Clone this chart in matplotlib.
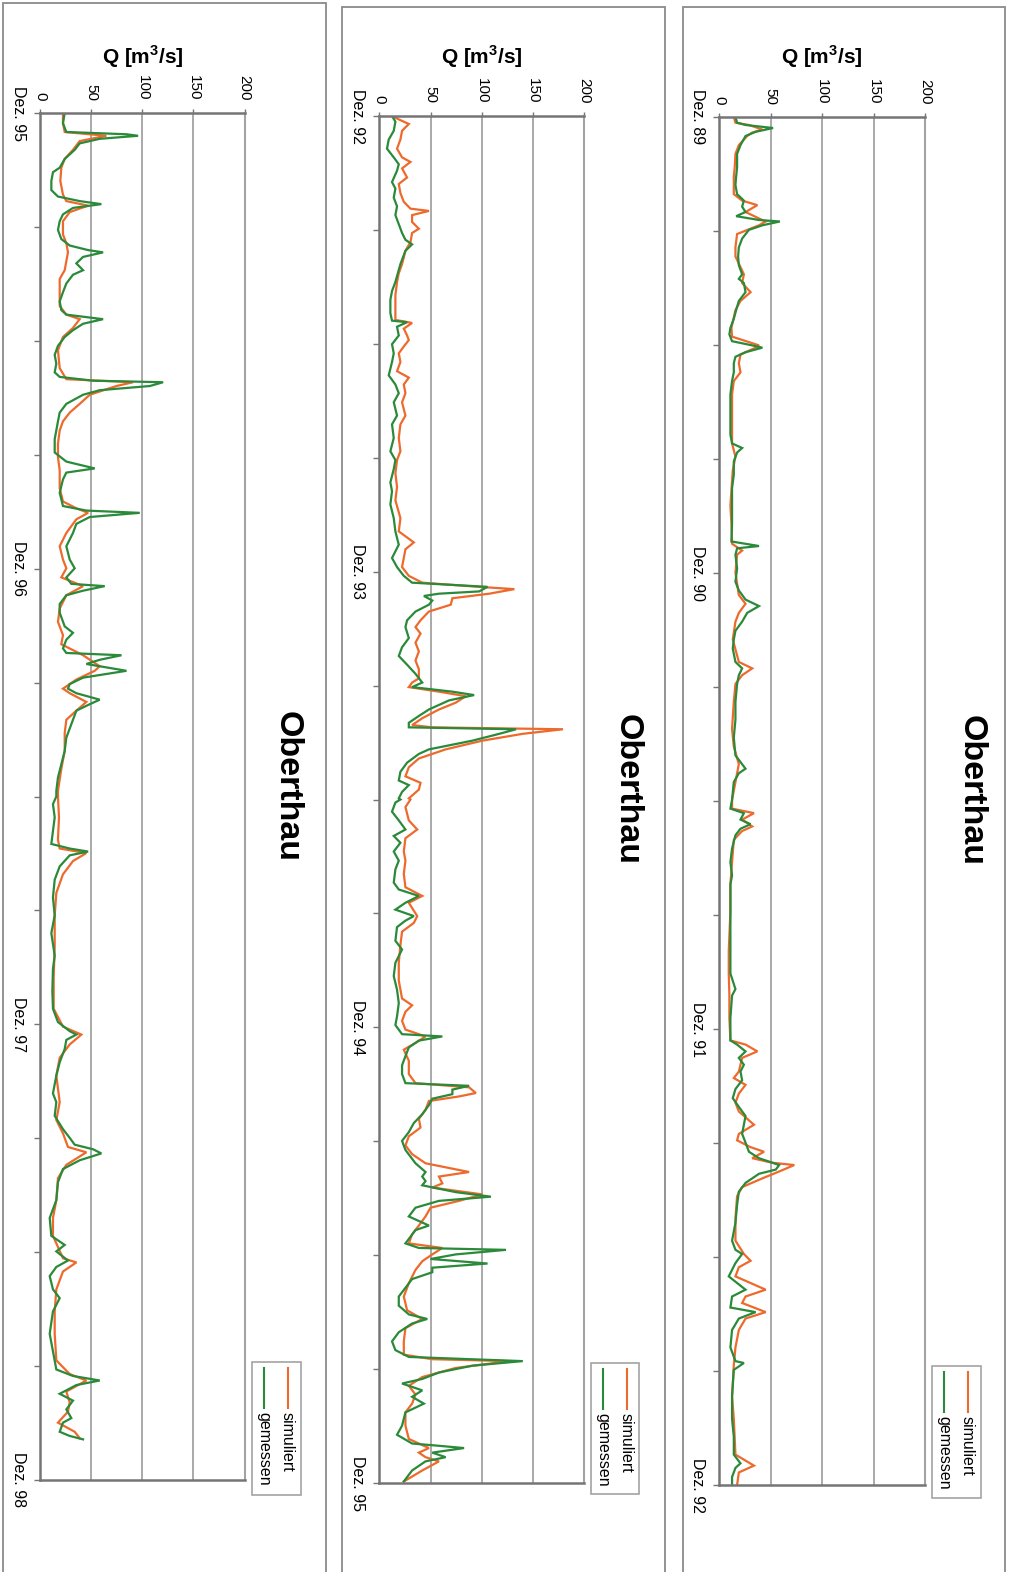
import matplotlib
matplotlib.use("Agg")
import matplotlib.pyplot as plt
from matplotlib.patches import Rectangle
from matplotlib.lines import Line2D
import numpy as np

plt.rcParams['font.family'] = ['Liberation Sans', 'DejaVu Sans']
plt.rcParams['mathtext.fontset'] = 'custom'
plt.rcParams['mathtext.rm'] = 'Liberation Sans'
plt.rcParams['mathtext.bf'] = 'Liberation Sans:bold'

W, H = 1009, 1572

station = "Oberthau"
q_label = r"Q [m$^{\mathbf{3}}$/s]"
q_ticks = [0, 50, 100, 150, 200]
legend_labels = ["simuliert", "gemessen"]

# time axis: months after December of the first year of each panel
labels_8992 = ["Dez. 89", "Dez. 90", "Dez. 91", "Dez. 92"]
labels_9295 = ["Dez. 92", "Dez. 93", "Dez. 94", "Dez. 95"]
labels_9598 = ["Dez. 95", "Dez. 96", "Dez. 97", "Dez. 98"]

# (month, Q in m³/s)
sim_8992 = [
    (0, 14.1), (0.15, 15.7), (0.21, 28.8), (0.33, 41.9), (0.41, 32.0), (0.50, 27.1), (0.74, 19.0),
    (0.97, 15.7), (1.32, 15.0), (1.56, 14.1), (2.03, 14.1), (2.20, 22.2), (2.32, 37.0), (2.50, 25.5),
    (2.67, 38.6), (2.75, 45.1), (2.85, 38.6), (3.08, 17.3), (3.43, 15.7), (3.67, 15.7), (4.14, 23.9),
    (4.37, 22.2), (4.61, 30.4), (4.84, 20.6), (5.08, 15.7), (5.55, 11.8), (5.78, 12.4), (6.01, 38.6),
    (6.07, 35.3), (6.25, 20.6), (6.48, 19.0), (6.72, 20.6), (6.95, 14.1), (7.30, 12.4), (7.89, 12.4),
    (8.59, 12.4), (8.94, 15.7), (9.30, 13.1), (10.23, 10.8), (10.70, 11.8), (11.23, 12.4), (11.41, 22.2),
    (11.52, 17.3), (11.99, 15.7), (12.58, 19.0), (12.81, 25.5), (13.05, 19.0), (13.28, 15.7),
    (13.75, 13.1), (14.34, 19.0), (14.51, 32.0), (14.69, 22.2), (14.92, 15.7), (15.39, 14.1),
    (16.10, 12.4), (16.57, 14.1), (17.03, 19.0), (17.27, 17.3), (17.97, 12.4),
    (18.20, 12.4), (18.32, 33.7), (18.49, 22.2), (18.67, 32.0), (18.79, 22.2), (19.02, 14.1),
    (19.61, 12.4), (20.19, 10.8), (20.90, 10.8), (21.95, 9.2), (22.54, 9.2), (23.12, 9.8), (23.71, 9.8),
    (24.30, 10.8), (24.41, 25.5), (24.59, 37.0), (24.76, 22.2), (25.12, 19.0), (25.29, 14.1),
    (25.47, 25.5), (25.70, 19.0), (25.94, 15.7), (26.17, 19.0), (26.52, 33.7), (26.76, 19.0),
    (26.93, 17.3), (27.11, 30.4), (27.23, 43.5), (27.40, 32.0), (27.52, 51.7), (27.58, 72.9),
    (27.75, 58.2), (27.93, 41.9), (28.16, 22.2), (28.40, 17.3), (28.98, 15.7), (29.57, 15.7),
    (29.92, 23.9), (30.10, 30.4), (30.27, 19.0), (30.51, 15.7), (30.86, 45.1), (31.04, 25.5),
    (31.21, 22.2), (31.45, 45.1), (31.62, 25.5), (31.92, 19.0), (32.38, 15.7), (32.85, 14.1),
    (33.67, 12.4), (34.26, 14.1), (35.20, 15.7), (35.49, 33.7), (35.67, 19.0), (36.0, 17.3),
]
obs_8992 = [
    (0, 15.7), (0.15, 17.3), (0.21, 25.5), (0.29, 52.3), (0.39, 35.3), (0.50, 25.5), (0.74, 20.6),
    (0.97, 17.3), (1.32, 17.3), (1.56, 16.4), (1.79, 15.7), (2.03, 17.3), (2.20, 23.9), (2.36, 22.2),
    (2.50, 25.5), (2.61, 16.4), (2.71, 38.6), (2.75, 58.9), (2.85, 41.9), (2.97, 28.8), (3.20, 22.2),
    (3.43, 19.0), (3.67, 18.3), (3.90, 19.0), (4.14, 22.2), (4.26, 19.0), (4.37, 23.9), (4.61, 25.5),
    (4.84, 19.0), (5.08, 16.4), (5.31, 14.1), (5.55, 10.8), (5.72, 9.8), (5.90, 12.4), (6.01, 32.0),
    (6.07, 41.9), (6.19, 25.5), (6.31, 15.7), (6.48, 14.1), (6.72, 14.1), (6.95, 12.4), (7.30, 10.8),
    (7.66, 10.8), (7.89, 10.8), (8.36, 10.8), (8.59, 12.4), (8.71, 22.2), (8.83, 17.3), (9.06, 14.1),
    (9.41, 14.1), (9.77, 12.4), (10.23, 12.4), (10.70, 12.4), (11.17, 11.8), (11.29, 38.6),
    (11.35, 17.3), (11.52, 15.7), (11.88, 17.3), (12.23, 15.7), (12.46, 19.0), (12.70, 25.5),
    (12.87, 38.6), (13.05, 27.1), (13.28, 22.2), (13.52, 15.7), (13.75, 14.1), (13.99, 13.1),
    (14.34, 15.7), (14.51, 22.2), (14.69, 19.0), (14.92, 17.3), (15.39, 15.7), (15.86, 15.7),
    (16.33, 14.1), (16.80, 15.7), (17.15, 25.5), (17.27, 19.0), (17.50, 14.1), (17.97, 12.4),
    (18.20, 10.8), (18.32, 23.9), (18.49, 20.6), (18.61, 30.4), (18.73, 20.6), (18.90, 15.7),
    (19.25, 12.4), (19.61, 10.8), (19.96, 12.4), (20.19, 10.8), (20.90, 10.8), (21.36, 10.8),
    (21.95, 10.8), (22.54, 10.8), (22.95, 15.7), (23.12, 12.4), (23.71, 10.8), (24.30, 10.8),
    (24.41, 17.3), (24.59, 25.5), (24.76, 19.0), (24.94, 23.9), (25.12, 20.6), (25.35, 22.2),
    (25.58, 15.7), (25.82, 13.1), (26.05, 19.0), (26.29, 25.5), (26.52, 23.9), (26.76, 22.2),
    (26.99, 25.5), (27.23, 28.8), (27.40, 38.6), (27.58, 58.2), (27.70, 54.9), (27.81, 38.6),
    (28.05, 25.5), (28.28, 19.0), (28.63, 17.3), (29.10, 15.7), (29.57, 12.4), (29.81, 15.7),
    (29.92, 22.2), (30.16, 15.7), (30.51, 9.2), (30.86, 25.5), (31.04, 12.4), (31.33, 10.8),
    (31.45, 35.3), (31.62, 19.0), (31.92, 12.4), (32.38, 10.8), (32.74, 15.7), (32.79, 23.9),
    (32.97, 14.1), (33.67, 12.4), (34.26, 12.4), (34.73, 14.1), (35.20, 14.1), (35.43, 20.6),
    (35.55, 15.7), (35.79, 12.4), (36.0, 12.4),
]

sim_9295 = [
    (0, 12.4), (0.09, 19.0), (0.21, 28.8), (0.39, 22.2), (0.62, 20.6), (0.86, 17.3), (1.09, 22.2),
    (1.21, 30.4), (1.38, 22.2), (1.62, 27.1), (1.79, 19.0), (2.03, 20.6), (2.26, 23.9), (2.44, 30.4),
    (2.50, 48.4), (2.61, 32.0), (2.79, 32.0), (2.97, 38.6), (3.08, 32.0), (3.32, 30.4), (3.55, 25.5),
    (3.90, 22.2), (4.14, 19.0), (4.37, 17.3), (4.72, 15.7), (5.08, 15.7), (5.37, 15.7), (5.45, 32.0),
    (5.60, 23.9), (5.78, 27.1), (5.90, 28.8), (6.07, 23.9), (6.25, 19.0), (6.48, 20.6), (6.72, 17.3),
    (6.89, 28.8), (7.07, 23.9), (7.30, 25.5), (7.54, 22.2), (7.89, 25.5), (8.12, 20.6), (8.48, 19.0),
    (8.83, 20.6), (9.06, 17.3), (9.41, 15.7), (9.77, 17.3), (10.12, 15.7), (10.59, 20.6),
    (10.94, 19.0), (11.23, 33.7), (11.41, 25.5), (11.64, 23.9), (11.88, 22.2), (12.11, 28.8),
    (12.29, 41.9), (12.40, 97.4), (12.46, 131.8), (12.58, 107.3), (12.70, 71.3), (12.87, 69.7),
    (13.05, 48.4), (13.28, 40.2), (13.46, 35.3), (13.63, 40.2), (13.87, 35.3), (14.10, 38.6),
    (14.34, 35.3), (14.57, 38.6), (14.81, 38.6), (14.92, 32.0), (15.04, 28.8), (15.16, 58.2),
    (15.28, 84.4), (15.45, 74.6), (15.63, 58.2), (15.86, 41.9), (16.04, 32.0), (16.10, 51.7),
    (16.15, 179.2), (16.27, 140.0), (16.45, 100.7), (16.68, 64.7), (16.92, 38.6), (17.15, 28.8),
    (17.39, 25.5), (17.56, 40.2), (17.74, 38.6), (17.97, 28.8),
    (18.0, 30.4), (18.20, 25.5), (18.55, 28.8), (18.79, 37.0), (19.02, 25.5), (19.37, 23.9),
    (19.61, 25.5), (19.96, 23.9), (20.31, 25.5), (20.54, 41.9), (20.72, 28.8), (21.07, 37.0),
    (21.25, 33.7), (21.48, 22.2), (21.83, 20.6), (22.30, 19.0), (22.77, 19.0), (23.24, 22.2),
    (23.42, 32.0), (23.59, 25.5), (23.83, 22.2), (24.06, 25.5), (24.24, 45.1), (24.41, 35.3),
    (24.59, 23.9), (24.88, 28.8), (25.23, 28.8), (25.47, 35.3), (25.58, 87.6), (25.73, 94.2),
    (25.82, 77.8), (25.94, 48.4), (26.17, 45.1), (26.41, 38.6), (26.64, 40.2), (26.87, 28.8),
    (27.11, 25.5), (27.34, 32.0), (27.58, 45.1), (27.81, 87.6), (27.93, 58.2), (28.11, 61.5),
    (28.22, 51.7), (28.40, 100.7), (28.57, 77.8), (28.75, 50.0), (28.98, 45.1), (29.22, 38.6),
    (29.45, 32.0), (29.69, 28.8), (29.81, 61.5), (29.98, 51.7), (30.16, 41.9), (30.39, 35.3),
    (30.74, 28.8), (31.09, 23.9), (31.45, 27.1), (31.68, 41.9), (31.92, 25.5), (32.27, 23.9),
    (32.62, 23.9), (32.74, 51.7), (32.79, 126.9), (32.97, 74.6), (33.21, 41.9), (33.44, 28.8),
    (33.67, 35.3), (33.91, 32.0), (34.14, 25.5), (34.49, 25.5), (34.84, 28.8), (35.08, 48.4),
    (35.20, 38.6), (35.32, 45.1), (35.43, 58.2), (35.67, 41.9), (35.96, 23.9),
]
obs_9295 = [
    (0, 12.4), (0.15, 15.7), (0.39, 14.1), (0.62, 9.2), (0.86, 7.5), (1.09, 14.1), (1.27, 19.0),
    (1.44, 17.3), (1.74, 12.4), (1.91, 15.7), (2.15, 14.1), (2.38, 17.3), (2.61, 15.7), (2.85, 19.0),
    (3.08, 22.2), (3.26, 25.5), (3.38, 32.0), (3.55, 25.5), (3.90, 20.6), (4.37, 15.7), (4.61, 12.4),
    (4.84, 10.8), (5.19, 10.8), (5.39, 12.4), (5.43, 27.1), (5.55, 17.3), (5.78, 19.0), (6.01, 12.4),
    (6.25, 14.1), (6.48, 12.4), (6.83, 9.2), (7.07, 15.7), (7.30, 19.0), (7.54, 14.1), (7.89, 17.3),
    (8.12, 12.4), (8.48, 14.1), (8.83, 10.8), (9.06, 15.7), (9.30, 14.1), (9.65, 10.8), (9.88, 12.4),
    (10.23, 10.8), (10.59, 14.1), (10.94, 15.7), (11.29, 19.0), (11.64, 12.4), (11.88, 17.3),
    (12.11, 23.9), (12.29, 32.0), (12.40, 105.6), (12.52, 97.4), (12.58, 58.2), (12.64, 43.5),
    (12.76, 51.7), (12.87, 48.4), (13.05, 35.3), (13.28, 27.1), (13.46, 25.5), (13.75, 28.8),
    (13.99, 22.2), (14.22, 19.0), (14.45, 27.1), (14.69, 35.3), (14.92, 41.9), (15.04, 32.0),
    (15.16, 71.3), (15.25, 92.5), (15.39, 68.0), (15.63, 48.4), (15.80, 38.6), (15.98, 28.8),
    (16.10, 28.8), (16.15, 133.4), (16.27, 117.1), (16.45, 90.9), (16.68, 48.4), (16.80, 38.6),
    (17.03, 27.1), (17.27, 20.6), (17.50, 19.0), (17.62, 28.8), (17.80, 22.2), (17.97, 19.0),
    (18.0, 20.6), (18.08, 15.7), (18.32, 12.4), (18.55, 19.0), (18.79, 25.5), (18.96, 14.1),
    (19.14, 20.6), (19.37, 14.1), (19.61, 19.0), (19.84, 15.7), (20.19, 14.1), (20.37, 19.0),
    (20.54, 38.6), (20.72, 25.5), (20.90, 15.7), (21.07, 33.7), (21.19, 25.5), (21.36, 17.3),
    (21.72, 15.7), (21.95, 22.2), (22.30, 15.7), (22.65, 14.1), (23.01, 17.3), (23.36, 19.0),
    (23.71, 17.3), (23.94, 15.7), (24.18, 22.2), (24.24, 61.5), (24.35, 38.6), (24.53, 28.8),
    (24.76, 25.5), (25.00, 22.2), (25.23, 22.2), (25.47, 25.5), (25.54, 87.6), (25.64, 71.3),
    (25.76, 71.3), (25.88, 51.7), (26.05, 48.4), (26.29, 41.9), (26.52, 33.7), (26.76, 28.8),
    (26.99, 22.2), (27.23, 25.5), (27.58, 35.3), (27.81, 45.1), (27.93, 41.9), (28.05, 45.1),
    (28.16, 41.9), (28.34, 74.6), (28.46, 108.9), (28.57, 58.2), (28.75, 35.3), (28.98, 28.8),
    (29.22, 48.4), (29.34, 35.3), (29.57, 28.8), (29.69, 25.5), (29.81, 38.6), (29.86, 123.6),
    (29.98, 74.6), (30.10, 50.0), (30.22, 105.6), (30.33, 51.7), (30.45, 51.7), (30.63, 32.0),
    (30.86, 25.5), (31.09, 19.0), (31.33, 19.0), (31.56, 28.8), (31.68, 46.8), (31.80, 32.0),
    (32.03, 19.0), (32.27, 12.4), (32.50, 15.7), (32.68, 28.8), (32.79, 140.0), (32.91, 90.9),
    (33.09, 58.2), (33.26, 41.9), (33.38, 22.2), (33.56, 41.9), (33.73, 32.0), (33.91, 43.5),
    (34.14, 25.5), (34.49, 22.2), (34.73, 17.3), (34.96, 32.0), (35.02, 58.2), (35.08, 82.7),
    (35.20, 51.7), (35.32, 64.7), (35.43, 45.1), (35.67, 32.0), (35.96, 23.9),
]

sim_9598 = [
    (0, 22.2), (0.27, 22.2), (0.50, 23.9), (0.60, 64.7), (0.74, 38.6), (0.97, 32.0), (1.21, 23.9),
    (1.44, 20.6), (1.79, 19.6), (2.15, 22.2), (2.32, 25.5), (2.44, 46.8), (2.61, 28.8), (2.85, 22.2),
    (3.20, 22.2), (3.43, 25.5), (3.67, 27.1), (3.90, 25.5), (4.14, 23.9), (4.37, 19.0), (4.72, 19.0),
    (5.08, 19.0), (5.31, 25.5), (5.43, 38.6), (5.66, 32.0), (5.90, 22.2), (6.25, 17.3), (6.72, 19.0),
    (7.01, 25.5), (7.09, 90.9), (7.19, 74.6), (7.42, 48.4), (7.66, 38.6), (7.89, 28.8), (8.12, 22.2),
    (8.36, 19.0), (8.71, 17.3), (9.06, 17.3), (9.41, 19.0), (9.88, 19.0), (10.23, 22.2),
    (10.41, 35.3), (10.53, 46.8), (10.70, 35.3), (11.06, 25.5), (11.41, 19.0), (11.76, 22.2),
    (11.99, 25.5), (12.23, 20.6), (12.46, 41.9), (12.70, 25.5), (13.05, 19.0), (13.40, 17.3),
    (13.75, 22.2), (13.99, 20.6), (14.28, 41.9), (14.57, 58.2), (14.69, 53.3), (14.92, 35.3),
    (15.16, 22.2), (15.28, 28.8), (15.51, 45.1), (15.74, 35.3), (15.98, 25.5), (16.33, 23.9),
    (16.80, 23.9), (17.27, 20.6), (17.85, 17.3),
    (18.0, 17.3), (18.55, 18.3), (19.14, 17.3), (19.37, 19.0), (19.49, 45.1), (19.70, 32.0),
    (20.05, 22.2), (20.54, 15.7), (21.13, 14.1), (21.95, 14.1), (22.77, 13.1), (23.59, 13.1),
    (24.06, 22.2), (24.27, 40.2), (24.53, 28.8), (24.88, 19.0), (25.35, 15.7), (26.05, 19.0),
    (26.52, 15.7), (26.87, 22.2), (27.23, 27.1), (27.37, 45.1), (27.70, 25.5), (28.05, 17.3),
    (28.63, 15.7), (29.10, 12.4), (29.57, 12.4), (30.16, 22.2), (30.27, 35.3), (30.51, 22.2),
    (30.98, 15.7), (31.56, 14.1), (32.15, 14.1), (32.85, 15.7), (33.21, 28.8), (33.38, 45.1),
    (33.67, 25.5), (33.96, 28.8), (34.20, 27.1), (34.49, 17.3), (34.73, 33.7), (34.90, 38.6),
]
obs_9598 = [
    (0, 23.9), (0.27, 22.2), (0.50, 25.5), (0.56, 84.4), (0.60, 95.8), (0.68, 58.2), (0.80, 38.6),
    (0.97, 33.7), (1.21, 23.9), (1.44, 19.0), (1.56, 12.4), (1.79, 10.8), (2.03, 10.8), (2.20, 17.3),
    (2.32, 38.6), (2.40, 59.8), (2.50, 32.0), (2.67, 22.2), (2.85, 19.0), (3.08, 17.3), (3.32, 20.6),
    (3.49, 28.8), (3.61, 46.8), (3.67, 61.5), (3.79, 41.9), (3.96, 35.3), (4.14, 41.9), (4.26, 32.0),
    (4.49, 25.5), (4.72, 22.2), (4.96, 19.0), (5.19, 20.6), (5.31, 25.5), (5.43, 61.5), (5.55, 41.9),
    (5.72, 32.0), (5.90, 23.9), (6.13, 17.3), (6.37, 14.1), (6.60, 15.7), (6.83, 14.1), (6.95, 19.0),
    (7.05, 51.7), (7.09, 120.3), (7.19, 107.3), (7.30, 58.2), (7.42, 41.9), (7.66, 25.5),
    (7.89, 19.0), (8.12, 17.3), (8.36, 15.7), (8.59, 14.1), (8.94, 14.1), (9.18, 25.5), (9.36, 53.3),
    (9.47, 25.5), (9.65, 22.2), (10.00, 19.0), (10.35, 22.2), (10.47, 45.1), (10.53, 97.4),
    (10.64, 48.4), (10.82, 35.3), (11.06, 32.0), (11.41, 25.5), (11.76, 28.8), (11.99, 33.7),
    (12.23, 25.5), (12.40, 30.4), (12.46, 63.1), (12.58, 41.9), (12.70, 25.5), (12.93, 19.0),
    (13.16, 19.0), (13.52, 23.9), (13.69, 32.0), (13.87, 25.5), (14.10, 22.2), (14.22, 25.5),
    (14.28, 79.5), (14.40, 58.2), (14.51, 45.1), (14.69, 84.4), (14.87, 41.9), (15.04, 28.8),
    (15.16, 27.1), (15.28, 35.3), (15.45, 58.2), (15.57, 48.4), (15.74, 35.3), (15.98, 32.0),
    (16.21, 28.8), (16.45, 25.5), (16.80, 23.9), (17.15, 20.6), (17.50, 17.3), (17.85, 15.7),
    (18.0, 15.7), (18.20, 12.4), (18.55, 14.1), (18.90, 12.4), (19.25, 10.8), (19.37, 28.8),
    (19.45, 46.8), (19.55, 28.8), (19.84, 19.0), (20.19, 14.1), (20.66, 12.4), (21.13, 14.1),
    (21.60, 10.8), (22.19, 14.1), (22.54, 12.4), (23.12, 11.8), (23.59, 12.4), (23.94, 17.3),
    (24.18, 28.8), (24.27, 35.3), (24.41, 25.5), (24.65, 23.9), (25.00, 19.0), (25.35, 15.7),
    (25.58, 14.1), (25.82, 12.4), (26.05, 15.7), (26.41, 14.1), (26.76, 22.2), (26.99, 28.8),
    (27.17, 33.7), (27.29, 51.7), (27.40, 59.8), (27.58, 38.6), (27.81, 22.2), (28.16, 17.3),
    (28.63, 15.7), (29.10, 9.2), (29.57, 10.8), (29.81, 23.9), (29.98, 15.7), (30.22, 27.1),
    (30.39, 15.7), (30.63, 9.2), (30.98, 12.4), (31.21, 19.0), (31.56, 12.4), (32.15, 9.2),
    (32.62, 12.4), (33.09, 15.7), (33.26, 32.0), (33.38, 58.2), (33.50, 35.3), (33.73, 19.0),
    (33.91, 32.0), (34.14, 25.5), (34.37, 30.4), (34.49, 22.2), (34.73, 19.0), (34.84, 28.8),
    (34.93, 41.9),
]

ORANGE = "#ee6a2c"
GREEN = "#2a8a3a"
AXIS_GREY = "#757575"
GRID_GREY = "#a3a3a3"
FRAME_GREY = "#8a8a8a"

# pixel layout of each panel: frame (left, right, top), plot area (left, right, top, bottom),
# title x, legend box (left, right, top, bottom)
panels = [
    dict(sim=sim_9598, obs=obs_9598, labels=labels_9598,
         frame=(3, 326, 3), plot=(40.3, 244.5, 113, 1480), title_x=287,
         legend=(252, 301, 1362, 1495)),
    dict(sim=sim_9295, obs=obs_9295, labels=labels_9295,
         frame=(342, 665, 7), plot=(379.3, 584.3, 116, 1483), title_x=627,
         legend=(591, 639, 1363, 1494)),
    dict(sim=sim_8992, obs=obs_8992, labels=labels_8992,
         frame=(683, 1005, 7), plot=(719.3, 925, 117, 1485), title_x=971,
         legend=(932, 981, 1366, 1498)),
]


def fx(x):
    return x / W


def fy(y):
    return 1 - y / H


fig = plt.figure(figsize=(W / 100, H / 100), dpi=100)
fig.patch.set_facecolor("white")

for p in panels:
    # outer frame of the panel
    x0, x1, top = p["frame"]
    fig.add_artist(Rectangle((fx(x0), fy(H + 20)), fx(x1) - fx(x0), fy(top) - fy(H + 20),
                             transform=fig.transFigure, fill=False, ec=FRAME_GREY, lw=1.3))

    l, r, t, b = p["plot"]
    ax = fig.add_axes([fx(l), fy(b), fx(r) - fx(l), fy(t) - fy(b)])
    sim = np.array(p["sim"])
    obs = np.array(p["obs"])
    ax.plot(sim[:, 1], sim[:, 0], color=ORANGE, lw=1.6, solid_joinstyle="miter")
    ax.plot(obs[:, 1], obs[:, 0], color=GREEN, lw=1.6, solid_joinstyle="miter")

    ax.set_xlim(0, 200)
    ax.set_ylim(36, 0)

    ax.xaxis.tick_top()
    ax.set_xticks(q_ticks)
    ax.set_xticklabels([str(v) for v in q_ticks], rotation=-90, fontsize=11)
    ax.tick_params(axis="x", length=3, width=1, color=AXIS_GREY, pad=6)

    months = list(range(0, 37, 3))
    ax.set_yticks(months)
    ax.set_yticklabels([p["labels"][m // 12] if m % 12 == 0 else "" for m in months],
                       rotation=-90, fontsize=11.5, va="center")
    ax.tick_params(axis="y", length=4, width=1, color=AXIS_GREY, pad=6)

    ax.grid(axis="x", color=GRID_GREY, lw=1.3)
    ax.set_axisbelow(True)
    for side in ("left", "top", "bottom"):
        ax.spines[side].set_color(AXIS_GREY)
        ax.spines[side].set_linewidth(1.8)
    ax.spines["right"].set_color(GRID_GREY)
    ax.spines["right"].set_linewidth(1.5)

    # axis title and station name
    fig.text(fx((l + r) / 2), fy(57), q_label, fontsize=15, fontweight="bold",
             ha="center", va="center")
    fig.text(fx(p["title_x"]), fy((t + b) / 2 - 10), station, rotation=-90, fontsize=24.5,
             fontweight="bold", ha="center", va="center")

    # legend box with vertical line samples and rotated entries
    lx0, lx1, ly0, ly1 = p["legend"]
    fig.add_artist(Rectangle((fx(lx0), fy(ly1)), fx(lx1) - fx(lx0), fy(ly0) - fy(ly1),
                             transform=fig.transFigure, fc="white", ec=GRID_GREY, lw=1.2))
    col_x = [lx0 + 35.5, lx0 + 11.5]
    for name, color, cx in zip(legend_labels, [ORANGE, GREEN], col_x):
        fig.add_artist(Line2D([fx(cx), fx(cx)], [fy(ly0 + 6), fy(ly0 + 46)],
                              transform=fig.transFigure, color=color, lw=1.5))
        fig.text(fx(cx), fy(ly0 + 50), name, rotation=-90, fontsize=11.5,
                 ha="center", va="top")

fig.savefig("out.png", dpi=100, facecolor="white")
